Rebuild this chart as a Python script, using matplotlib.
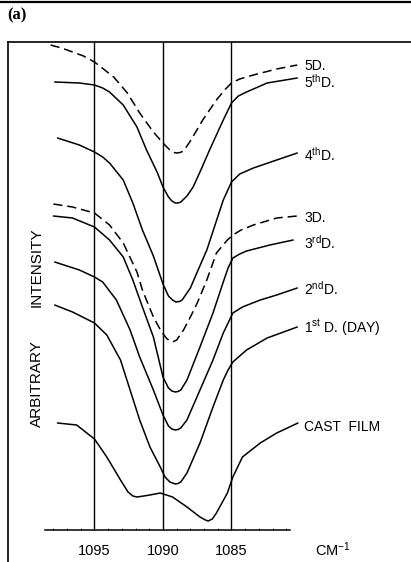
import matplotlib
matplotlib.use("Agg")
import matplotlib.pyplot as plt
from matplotlib.lines import Line2D

plt.rcParams['font.family'] = ['Liberation Sans', 'DejaVu Sans']
plt.rcParams['mathtext.fontset'] = 'custom'
plt.rcParams['mathtext.rm'] = 'Liberation Sans'
plt.rcParams['mathtext.it'] = 'Liberation Sans'
plt.rcParams['mathtext.bf'] = 'Liberation Sans:bold'

# ---------------- data (wavenumber cm^-1, arbitrary intensity) ----------------
x_5D = [1098.2, 1097.4, 1096.6, 1095.8, 1095.0, 1093.6, 1092.6, 1091.7, 1090.7, 1090.0,
        1089.5, 1089.2, 1089.0, 1088.75, 1088.5, 1088.0, 1087.1, 1086.1, 1085.5, 1085.0,
        1084.4, 1083.4, 1081.7, 1080.2]
y_5D = [485, 482, 478, 474, 468, 453, 437, 417, 398, 387,
        380, 377.5, 377, 377.5, 379, 389, 410, 430, 440, 447,
        451, 455, 461, 465]

x_5th = [1097.9, 1096.1, 1095.0, 1094.4, 1093.9, 1092.9, 1091.9, 1091.2, 1090.4, 1090.0,
         1089.6, 1089.35, 1089.1, 1088.9, 1088.7, 1088.25, 1087.8, 1087.3, 1086.6, 1085.6,
         1085.0, 1084.5, 1083.9, 1082.4, 1080.2]
y_5th = [448, 447, 445, 442, 438, 425, 403, 380, 357, 343,
         333, 329, 327, 327, 328, 334, 343, 358, 380, 410,
         427, 434, 438, 447, 452]

x_4th = [1097.7, 1096.1, 1095.0, 1094.4, 1093.9, 1092.9, 1092.2, 1091.5, 1090.7, 1090.0,
         1089.6, 1089.3, 1089.05, 1088.8, 1088.6, 1088.0, 1087.5, 1086.8, 1086.2, 1085.6,
         1085.0, 1084.4, 1083.4, 1081.7, 1080.2]
y_4th = [392, 385, 378, 373, 367, 350, 327, 300, 274, 246,
         234, 230, 228, 228.5, 230, 242, 258, 280, 305, 330,
         348, 356, 362, 370, 377]

x_3D = [1098.0, 1096.6, 1095.0, 1093.9, 1092.9, 1091.9, 1091.5, 1090.7, 1090.1, 1089.7,
        1089.3, 1089.0, 1088.5, 1088.0, 1087.5, 1086.8, 1086.1, 1085.3, 1084.9, 1084.3,
        1083.4, 1081.7, 1080.2]
y_3D = [326, 323, 317, 305, 287, 258, 240, 213, 198, 191,
        188, 190, 200, 213, 227, 250, 277, 290, 295, 300,
        305, 312, 314]

x_3rd = [1098.0, 1096.6, 1095.0, 1093.9, 1092.9, 1092.2, 1091.5, 1090.7, 1090.0, 1089.6,
         1089.35, 1089.1, 1088.9, 1088.7, 1088.25, 1087.3, 1086.35, 1085.6, 1085.25, 1084.9,
         1084.4, 1083.9, 1082.2, 1080.5]
y_3rd = [314, 312, 303, 290, 273, 250, 223, 193, 153, 142,
         139, 138, 138.5, 140, 150, 183, 217, 248, 262, 272,
         276, 279, 285, 290]

x_2nd = [1097.9, 1096.1, 1095.0, 1094.4, 1093.4, 1092.4, 1091.7, 1090.7, 1090.0, 1089.6,
         1089.35, 1089.1, 1088.9, 1088.7, 1088.25, 1087.3, 1086.35, 1085.6, 1084.9, 1084.2,
         1082.9, 1081.7, 1080.2]
y_2nd = [268, 260, 253, 248, 230, 200, 173, 140, 115, 104,
         101, 100, 100.5, 102, 110, 140, 170, 197, 217, 223,
         230, 235, 242]

x_1st = [1097.9, 1096.6, 1095.0, 1094.1, 1093.1, 1092.4, 1091.7, 1090.95, 1090.2, 1089.85,
         1089.5, 1089.1, 1088.9, 1088.7, 1088.25, 1087.3, 1086.35, 1085.6, 1085.25, 1084.9,
         1083.9, 1082.4, 1080.2]
y_1st = [225, 218, 207, 195, 170, 140, 110, 83, 63, 53,
         48, 46, 46.5, 48, 57, 87, 123, 150, 160, 168,
         180, 192, 203]

x_cast = [1097.7, 1096.3, 1095.0, 1094.1, 1093.1, 1092.55, 1092.2, 1091.9, 1091.4, 1090.95,
          1090.2, 1089.3, 1088.25, 1087.3, 1086.9, 1086.7, 1086.4, 1086.1, 1085.3, 1084.9,
          1084.2, 1082.9, 1081.7, 1080.15]
y_cast = [107, 105, 91, 73, 50, 38, 34, 33, 34, 35,
          37, 33, 23, 13, 10, 9, 11, 17, 37, 53,
          73, 87, 97, 107]

tick_positions = [1095, 1090, 1085]
tick_labels = ["1095", "1090", "1085"]

curve_labels = ["5D.", "5$^{\\rm th}$D.", "4$^{\\rm th}$D.", "3D.", "3$^{\\rm rd}$D.",
                "2$^{\\rm nd}$D.", "1$^{\\rm st}$ D. (DAY)", "CAST  FILM"]

# ---------------- figure ----------------
W, H = 411, 562
fig = plt.figure(figsize=(W / 100, H / 100), dpi=100)
fig.patch.set_facecolor('white')

# axes: left border at px 8, top border at px 42
ax = fig.add_axes([8 / W, 0, 1 - 8 / W, (H - 42) / H])
ax.set_xlim(1101.31, 1071.90)
ax.set_ylim(-32, 488)

lw = 1.1
curves = [
    (x_5D, y_5D, '--'), (x_5th, y_5th, '-'), (x_4th, y_4th, '-'),
    (x_3D, y_3D, '--'), (x_3rd, y_3rd, '-'), (x_2nd, y_2nd, '-'),
    (x_1st, y_1st, '-'), (x_cast, y_cast, '-'),
]
for xs, ys, ls in curves:
    if ls == '--':
        ax.plot(xs, ys, color='black', lw=lw, linestyle=(0, (6, 3.2)),
                solid_joinstyle='round')
    else:
        ax.plot(xs, ys, color='black', lw=lw, solid_joinstyle='round',
                solid_capstyle='round')

# vertical reference lines at the major ticks
ax.vlines(tick_positions, 0, ax.get_ylim()[1], color='black', lw=1.0)

# spines
ax.spines['right'].set_visible(False)
ax.spines['left'].set_linewidth(1.2)
ax.spines['top'].set_linewidth(1.2)
ax.spines['bottom'].set_position(('data', 0))
ax.spines['bottom'].set_bounds(1098.6, 1080.7)
ax.spines['bottom'].set_linewidth(1.1)

ax.set_yticks([])
ax.set_xticks(tick_positions)
ax.set_xticklabels(tick_labels, fontsize=10.5)
ax.tick_params(axis='x', which='major', length=0, pad=10)
ax.set_xticks(list(range(1081, 1099)), minor=True)
ax.tick_params(axis='x', which='minor', direction='in', length=1.5, width=0.5)

# curve labels (to the right of curve ends)
label_x = 1079.7
label_y = [464, 448, 375, 312, 287, 241, 202, 103]
for t, yy in zip(curve_labels, label_y):
    ax.text(label_x, yy, t, fontsize=10, ha='left', va='center')

ax.text(1099.2, 263, "INTENSITY", rotation=90, ha='center', va='center', fontsize=11)
ax.text(1099.2, 146, "ARBITRARY", rotation=90, ha='center', va='center', fontsize=11)
ax.text(1078.9, -20, "CM$^{-1}$", ha='left', va='center', fontsize=10.5)

# panel letter and top rule
fig.text(7 / W, 1 - 15 / H, "(a)", fontsize=12, fontweight='bold',
         family=['Liberation Serif', 'DejaVu Serif'], ha='left', va='center')
fig.add_artist(Line2D([0, 1], [1 - 2 / H, 1 - 2 / H], color='black', lw=1.6,
                      transform=fig.transFigure))

fig.savefig("out.png", dpi=100, facecolor='white')
